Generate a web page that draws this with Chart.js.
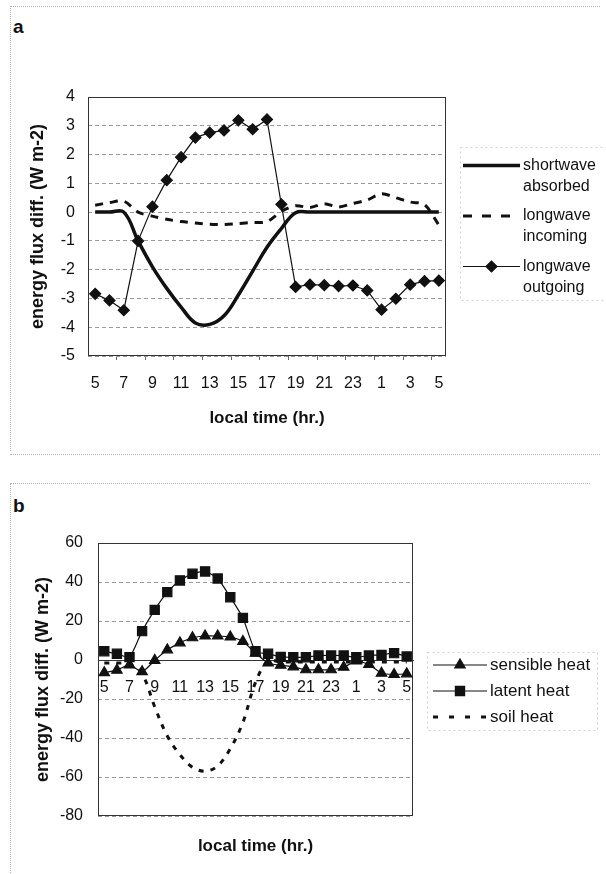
<!DOCTYPE html>
<html><head><meta charset="utf-8">
<script src="https://cdn.jsdelivr.net/npm/chart.js@4.4.0/dist/chart.umd.min.js"></script>
<style>
html,body{margin:0;padding:0;background:#fff;}
body{width:606px;height:874px;position:relative;overflow:hidden;font-family:"Liberation Sans",Arial,sans-serif;}
.panel{position:absolute;left:0;width:606px;}
#wa{top:0;height:450px;}
#wb{top:460px;height:414px;}
.lbl{position:absolute;font-weight:bold;font-size:19px;line-height:19px;color:#111;}
.dl{position:absolute;border:0 dotted #b0b0b0;}
</style></head><body>
<div class="dl" style="left:10px;top:6px;width:590px;border-top-width:1px"></div>
<div class="dl" style="left:10px;top:6px;height:445px;border-left-width:1px"></div>
<div class="dl" style="left:10px;top:454px;width:590px;border-top-width:1px"></div>
<div class="dl" style="left:10px;top:483px;width:580px;border-top-width:1px"></div>
<div class="dl" style="left:10px;top:483px;height:390px;border-left-width:1px"></div>
<div class="lbl" style="left:13px;top:17px">a</div>
<div class="lbl" style="left:13px;top:496px">b</div>
<div class="panel" id="wa"><canvas id="ca" width="606" height="450"></canvas></div>
<div class="panel" id="wb"><canvas id="cb" width="606" height="414"></canvas></div>
<script>
// ---- data ----
const hours = [5,6,7,8,9,10,11,12,13,14,15,16,17,18,19,20,21,22,23,0,1,2,3,4,5];
// panel a (W m-2)
const shortwaveAbsorbed = [0, 0, 0, -1.0, -1.9, -2.65, -3.3, -3.85, -3.9, -3.6, -2.88, -2.05, -1.22, -0.57, -0.02, 0, 0, 0, 0, 0, 0, 0, 0, 0, 0];
const longwaveIncoming = [0.24, 0.33, 0.38, 0.0, -0.14, -0.25, -0.33, -0.38, -0.42, -0.43, -0.4, -0.36, -0.33, 0.02, 0.22, 0.16, 0.29, 0.18, 0.3, 0.42, 0.64, 0.5, 0.35, 0.26, -0.45];
const longwaveOutgoing = [-2.84, -3.07, -3.41, -1.0, 0.19, 1.11, 1.91, 2.59, 2.76, 2.84, 3.19, 2.88, 3.22, 0.27, -2.6, -2.52, -2.54, -2.57, -2.55, -2.72, -3.39, -3.01, -2.52, -2.4, -2.38];
const yRangeA = [-5, 4, 1];
// panel b (W m-2)
const sensibleHeat = [-6.5, -5.2, -2.5, -6, -0.2, 5.2, 8.8, 11.4, 12.3, 12.3, 11.8, 9.5, 3.5, -1.5, -2.7, -3.5, -5, -5, -5, -3.7, -0.5, -2.3, -6.8, -7.4, -7.1];
const latentHeat = [4.5, 3.2, 1.5, 14.8, 25.7, 34.8, 40.8, 44.2, 45.4, 41.8, 32.2, 21.6, 4.5, 3.2, 1.6, 1.4, 1.4, 2.3, 2.3, 2.3, 1.4, 2.3, 2.6, 3.5, 1.8];
const soilHeat = [-1.5, -1.5, -2, -7, -24, -39, -48.5, -55, -57, -54.3, -45.5, -32, -11.5, -0.5, -1, -1, -1, -1, -1, -1, -1, -1, -1, -1, -1];
const yRangeB = [-80, 60, 20];

const FONT = '"Liberation Sans", Arial, sans-serif';
const INK = '#111';

function marker(ctx, style, r, x, y) {
  if (Chart.helpers && Chart.helpers.drawPoint) {
    Chart.helpers.drawPoint(ctx, {pointStyle: style, radius: r, rotation: 0, borderWidth: 1}, x, y);
  }
}

const framePlugin = {
  id: 'frame',
  beforeDatasetsDraw(chart) {
    const {ctx, chartArea: a} = chart;
    ctx.save();
    ctx.strokeStyle = '#333'; ctx.lineWidth = 1; ctx.setLineDash([]);
    ctx.strokeRect(Math.round(a.left) + 0.5, Math.round(a.top) + 0.5, Math.round(a.right - a.left) - 1, Math.round(a.bottom - a.top) - 1);
    ctx.restore();
  }
};

const sideLegend = {
  id: 'sideLegend',
  afterDraw(chart, args, o) {
    const ctx = chart.ctx;
    ctx.save();
    if (o.box) {
      ctx.strokeStyle = '#d0d0d0'; ctx.lineWidth = 1; ctx.setLineDash([2, 3]);
      ctx.strokeRect(o.box[0] + 0.5, o.box[1] + 0.5, o.box[2], o.box[3]);
    }
    chart.data.datasets.forEach((ds, i) => {
      const y = o.ys[i];
      ctx.setLineDash(ds.legendDash || ds.borderDash || []);
      ctx.lineWidth = ds.borderWidth; ctx.strokeStyle = ds.borderColor;
      ctx.beginPath(); ctx.moveTo(o.x0, y); ctx.lineTo(o.x1, y); ctx.stroke();
      ctx.setLineDash([]);
      if (ds.pointRadius > 0) {
        ctx.fillStyle = ds.pointBackgroundColor; ctx.strokeStyle = ds.pointBorderColor;
        marker(ctx, ds.pointStyle, ds.pointRadius, (o.x0 + o.x1) / 2, y);
      }
      ctx.fillStyle = INK; ctx.font = o.fontSize + 'px ' + FONT;
      ctx.textBaseline = 'middle'; ctx.textAlign = 'left';
      ds.label.split('\n').forEach((t, k) => ctx.fillText(t, o.tx, y + k * o.lh));
    });
    ctx.restore();
  }
};

const tickFont = {family: FONT, size: 16};
const titleFont = {family: FONT, size: 17, weight: 'bold'};
const yTitleFont = {family: FONT, size: 18, weight: 'bold'};
const gridColor = '#9a9a9a';
const xLabel = (v, i) => (i % 2 === 0 ? String(hours[i]) : '');

// ---- panel a ----
new Chart(document.getElementById('ca'), {
  type: 'line',
  data: {
    labels: hours,
    datasets: [
      {label: 'shortwave\nabsorbed', data: shortwaveAbsorbed, borderColor: INK, borderWidth: 3.5, pointRadius: 0, tension: 0.4, order: 3, fill: false},
      {label: 'longwave\nincoming', data: longwaveIncoming, borderColor: INK, borderWidth: 3, borderDash: [8, 7], legendDash: [9, 10], pointRadius: 0, tension: 0.3, order: 2, fill: false},
      {label: 'longwave\noutgoing', data: longwaveOutgoing, borderColor: INK, borderWidth: 1.2, pointStyle: 'rectRot', pointRadius: 5.5, pointBackgroundColor: INK, pointBorderColor: INK, tension: 0, order: 1, fill: false}
    ]
  },
  options: {
    responsive: false, animation: false, devicePixelRatio: 1,
    layout: {padding: {left: 0, right: 160, top: 97, bottom: 14}},
    plugins: {legend: {display: false}, tooltip: {enabled: false},
      sideLegend: {x0: 463, x1: 520, tx: 523, lh: 21, fontSize: 16, ys: [165.5, 216, 266.5], box: [460, 147, 150, 153]}},
    scales: {
      x: {
        type: 'category', offset: true,
        grid: {display: true, drawOnChartArea: false, drawTicks: true, tickLength: 4, offset: true,
               tickColor: c => (c.index % 2 === 0 && c.index > 0 ? '#666' : 'rgba(0,0,0,0)')},
        border: {display: false},
        ticks: {autoSkip: false, maxRotation: 0, padding: 14, color: INK, font: tickFont, callback: xLabel},
        title: {display: true, text: 'local time (hr.)', color: INK, font: titleFont, padding: {top: 0, bottom: 7}},
        afterFit: s => { s.height = 80; }
      },
      y: {
        min: yRangeA[0], max: yRangeA[1],
        grid: {color: gridColor, lineWidth: 1, drawTicks: false},
        border: {display: false, dash: [4, 3]},
        ticks: {stepSize: yRangeA[2], padding: 13, color: INK, font: tickFont},
        title: {display: true, text: 'energy flux diff. (W m-2)', color: INK, font: yTitleFont, padding: {top: 27, bottom: 0}},
        afterFit: s => { s.width = 88; }
      }
    }
  },
  plugins: [framePlugin, sideLegend]
});

// ---- panel b ----
new Chart(document.getElementById('cb'), {
  type: 'line',
  data: {
    labels: hours,
    datasets: [
      {label: 'sensible heat', data: sensibleHeat, xAxisID: 'x', borderColor: INK, borderWidth: 1.2, pointStyle: 'triangle', pointRadius: 6, pointBackgroundColor: INK, pointBorderColor: INK, tension: 0.2, order: 3, fill: false},
      {label: 'latent heat', data: latentHeat, xAxisID: 'x', borderColor: INK, borderWidth: 1.2, pointStyle: 'rect', pointRadius: 6.5, pointBackgroundColor: INK, pointBorderColor: INK, tension: 0.2, order: 2, fill: false},
      {label: 'soil heat', data: soilHeat, xAxisID: 'x', borderColor: INK, borderWidth: 3, borderDash: [5, 7], legendDash: [5, 11], pointRadius: 0, tension: 0.35, order: 1, fill: false}
    ]
  },
  options: {
    responsive: false, animation: false, devicePixelRatio: 1,
    layout: {padding: {left: 0, right: 193, top: 83, bottom: 10}},
    plugins: {legend: {display: false}, tooltip: {enabled: false},
      sideLegend: {x0: 433, x1: 487, tx: 490, lh: 20, fontSize: 17, ys: [205, 231, 257], box: [427, 192, 170, 78]}},
    scales: {
      x: {
        type: 'category', offset: true, position: {y: 0},
        grid: {display: false, drawTicks: false},
        border: {display: true, color: '#333', width: 1},
        ticks: {autoSkip: false, maxRotation: 0, padding: 18, color: INK, font: tickFont, callback: xLabel},
        afterFit: s => { s.height = 0; }
      },
      xt: {
        type: 'category', position: 'bottom', offset: true,
        grid: {display: false, drawTicks: false},
        border: {display: false},
        ticks: {display: false},
        title: {display: true, text: 'local time (hr.)', color: INK, font: titleFont, padding: {top: 0, bottom: 7}},
        afterFit: s => { s.height = 48; }
      },
      y: {
        min: yRangeB[0], max: yRangeB[1],
        grid: {color: gridColor, lineWidth: 1, drawTicks: false},
        border: {display: false, dash: [4, 3]},
        ticks: {stepSize: yRangeB[2], padding: 15, color: INK, font: tickFont},
        title: {display: true, text: 'energy flux diff. (W m-2)', color: INK, font: yTitleFont, padding: {top: 32, bottom: 0}},
        afterFit: s => { s.width = 98; }
      }
    }
  },
  plugins: [framePlugin, sideLegend]
});
</script>
</body></html>
